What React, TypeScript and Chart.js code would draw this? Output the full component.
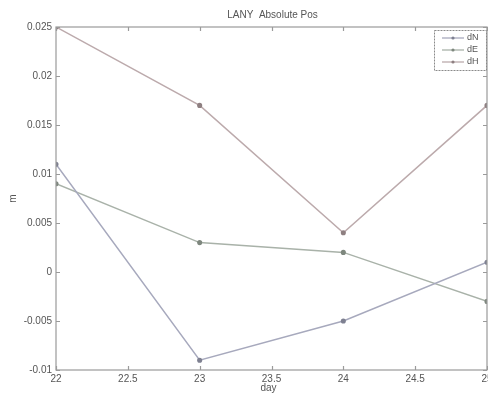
import React, { useEffect, useRef } from "react";
import { Chart, registerables } from "chart.js";

Chart.register(...registerables);

const days = [22, 23, 24, 25];
const dN = [0.011, -0.009, -0.005, 0.001];
const dE = [0.009, 0.003, 0.002, -0.003];
const dH = [0.025, 0.017, 0.004, 0.017];
const seriesNames = ["dN", "dE", "dH"];
const seriesColors = ["#a7a9bd", "#a9b2a9", "#bcaaac"];
const markerColors = ["#7e8091", "#7e877e", "#8e7f81"];

const titleText = "LANY  Absolute Pos";
const xTitle = "day";
const yTitle = "m";

const FONT = "Liberation Sans, Arial, Helvetica, sans-serif";

// Box frame, inward ticks on all four sides, title, axis titles and legend
const framePlugin = {
  id: "frame",
  afterDraw(chart: any) {
    const { ctx, chartArea: a, scales } = chart;
    const xs = scales.x;
    const ys = scales.y;
    ctx.save();
    ctx.strokeStyle = "#9a9a9a";
    ctx.lineWidth = 1.2;
    ctx.strokeRect(a.left, a.top, a.right - a.left, a.bottom - a.top);
    const tl = 4;
    ctx.beginPath();
    xs.ticks.forEach((t: any) => {
      const px = Math.round(xs.getPixelForValue(t.value)) + 0.5;
      ctx.moveTo(px, a.bottom);
      ctx.lineTo(px, a.bottom - tl);
      ctx.moveTo(px, a.top);
      ctx.lineTo(px, a.top + tl);
    });
    ys.ticks.forEach((t: any) => {
      const py = Math.round(ys.getPixelForValue(t.value)) + 0.5;
      ctx.moveTo(a.left, py);
      ctx.lineTo(a.left + tl, py);
      ctx.moveTo(a.right, py);
      ctx.lineTo(a.right - tl, py);
    });
    ctx.stroke();

    ctx.fillStyle = "#555";
    ctx.font = `10px ${FONT}`;
    ctx.textAlign = "center";
    ctx.textBaseline = "middle";
    ctx.fillText(titleText, (a.left + a.right) / 2 + 1, 15);
    ctx.fillText(xTitle, (a.left + a.right) / 2 - 3, 388);
    ctx.save();
    ctx.translate(13, (a.top + a.bottom) / 2);
    ctx.rotate(-Math.PI / 2);
    ctx.fillText(yTitle, 0, 0);
    ctx.restore();

    // legend
    const lx = 434, ly = 30, lw = 52, lh = 40;
    ctx.fillStyle = "#fff";
    ctx.fillRect(lx, ly, lw, lh);
    ctx.setLineDash([2, 1]);
    ctx.strokeStyle = "#8a8a8a";
    ctx.lineWidth = 1;
    ctx.strokeRect(lx + 0.5, ly + 0.5, lw, lh);
    ctx.setLineDash([]);
    chart.data.datasets.forEach((ds: any, i: number) => {
      const yy = ly + 8 + i * 12;
      ctx.strokeStyle = ds.borderColor;
      ctx.lineWidth = 1.3;
      ctx.beginPath();
      ctx.moveTo(lx + 8, yy);
      ctx.lineTo(lx + 30, yy);
      ctx.stroke();
      ctx.fillStyle = ds.pointBackgroundColor;
      ctx.beginPath();
      ctx.arc(lx + 19, yy, 1.6, 0, Math.PI * 2);
      ctx.fill();
      ctx.fillStyle = "#555";
      ctx.textAlign = "left";
      ctx.font = `9px ${FONT}`;
      ctx.fillText(ds.label, lx + 33, yy);
    });
    ctx.restore();
  },
};

export default function App() {
  const ref = useRef<HTMLCanvasElement>(null);
  useEffect(() => {
    if (!ref.current) return;
    const series = [dN, dE, dH];
    const chart = new Chart(ref.current, {
      type: "line",
      data: {
        datasets: series.map((vals, i) => ({
          label: seriesNames[i],
          data: days.map((d, j) => ({ x: d, y: vals[j] })),
          borderColor: seriesColors[i],
          backgroundColor: seriesColors[i],
          pointBackgroundColor: markerColors[i],
          pointBorderColor: markerColors[i],
          pointRadius: 1.8,
          borderWidth: 1.5,
          tension: 0,
        })),
      },
      options: {
        animation: false,
        responsive: false,
        maintainAspectRatio: false,
        layout: { autoPadding: false, padding: { left: 0, top: 27, right: 1, bottom: 0 } },
        plugins: { legend: { display: false }, title: { display: false }, tooltip: { enabled: false } },
        scales: {
          x: {
            type: "linear",
            min: 22,
            max: 25,
            grid: { display: false, drawTicks: false },
            border: { display: false },
            ticks: {
              stepSize: 0.5,
              padding: 3,
              color: "#555",
              font: { family: FONT, size: 10 },
              maxRotation: 0,
              autoSkip: false,
              callback: (v: any) => String(v),
            },
            afterFit: (s: any) => {
              s.height = 24;
              s.paddingLeft = 0;
              s.paddingRight = 0;
            },
          },
          y: {
            type: "linear",
            min: -0.01,
            max: 0.025,
            grid: { display: false, drawTicks: false },
            border: { display: false },
            ticks: {
              stepSize: 0.005,
              padding: 4,
              color: "#555",
              font: { family: FONT, size: 10 },
              callback: (v: any) => String(Math.round(Number(v) * 1000) / 1000),
            },
            afterFit: (s: any) => {
              s.width = 56;
              s.paddingTop = 0;
              s.paddingBottom = 0;
            },
          },
        },
      },
      plugins: [framePlugin],
    });
    return () => chart.destroy();
  }, []);
  return (
    <div style={{ position: "fixed", left: 0, top: 0, width: 488, height: 394, overflow: "hidden", background: "#fff" }}>
      <canvas ref={ref} width={488} height={394} style={{ display: "block" }} />
    </div>
  );
}
